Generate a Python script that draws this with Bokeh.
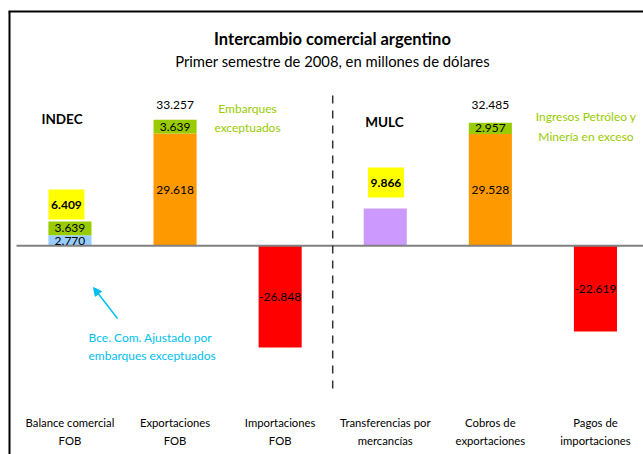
from bokeh.plotting import figure
from bokeh.models import Range1d, Arrow, NormalHead
from bokeh.core.properties import value
from bokeh.embed import file_html
from bokeh.resources import INLINE

# ---------------- data ----------------
categories = ["Balance comercial\nFOB", "Exportaciones\nFOB", "Importaciones\nFOB",
              "Transferencias por\nmercancías", "Cobros de\nexportaciones", "Pagos de\nimportaciones"]
base_values = [2770, 29618, -26848, 9866, 29528, -22619]
extra_values = [3639, 3639, 0, 0, 2957, 0]          # embarques / ingresos en exceso
base_labeled = [True, True, True, False, True, True]
boxed_totals = {0: 6409, 3: 9866}                    # totals shown in yellow boxes
plain_totals = {1: 33257, 4: 32485}                  # totals shown above bars
group_names = ["INDEC", "MULC"]
title = "Intercambio comercial argentino"
subtitle = "Primer semestre de 2008, en millones de dólares"
note_left = "Embarques\nexceptuados"
note_right = "Ingresos Petróleo y\nMinería en exceso"
note_adjusted = "Bce. Com. Ajustado por\nembarques exceptuados"

# ---------------- style ----------------
FONT = value("Lato")
W, H = 643, 454
PX_X = 105.1          # pixels per category
PX_Y = 0.00379        # pixels per million
ZERO_Y = 245.3
CENTER_X = 332.2      # pixel x of x=3
base_colors = ["#99CCFF", "#FF9900", "#FF0000", "#CC99FF", "#FF9900", "#FF0000"]
GREEN = "#99CC00"
CYAN = "#00C0F0"
BAR_W = 0.41

def px(sx):
    return 3 + (sx - CENTER_X) / PX_X

def py(sy):
    return (ZERO_Y - sy) / PX_Y

x0, x1 = px(0), px(W)
y1, y0 = py(0), py(H)

def fmt(v):
    return f"{v:,}".replace(",", ".")

p = figure(width=W, height=H, x_range=Range1d(x0, x1), y_range=Range1d(y0, y1),
           output_backend="svg", toolbar_location=None, x_axis_type=None, y_axis_type=None,
           min_border=0, min_border_left=0, min_border_right=0, min_border_top=0, min_border_bottom=0)
p.grid.visible = False
p.outline_line_color = None
p.background_fill_color = "white"
p.border_fill_color = "white"

xs = [i + 0.5 for i in range(len(categories))]

# bars
p.vbar(x=xs, bottom=0, top=base_values, width=BAR_W, fill_color=base_colors, line_color=None)
ext_x = [x for x, e in zip(xs, extra_values) if e]
ext_b = [b for b, e in zip(base_values, extra_values) if e]
ext_t = [b + e for b, e in zip(base_values, extra_values) if e]
p.vbar(x=ext_x, bottom=ext_b, top=ext_t, width=BAR_W, fill_color=GREEN, line_color=None)

# zero line
p.segment(x0=[px(16)], y0=[0], x1=[x1], y1=[0], line_color="#808080", line_width=2)

# divider
p.segment(x0=[3], y0=[py(95)], x1=[3], y1=[py(395)], line_color="#333333",
          line_width=1.5, line_dash="8 7")

# border (left and top)
p.segment(x0=[px(9)], y0=[py(11)], x1=[px(9)], y1=[y0], line_color="black", line_width=2)
p.segment(x0=[px(8)], y0=[py(11)], x1=[x1], y1=[py(11)], line_color="black", line_width=2)

# labels inside bars
lx = [x for x, l in zip(xs, base_labeled) if l]
ly = [b / 2 for b, l in zip(base_values, base_labeled) if l]
lt = [fmt(b) for b, l in zip(base_values, base_labeled) if l]
p.text(x=lx, y=ly, text=lt, text_font=FONT, text_font_size="12px", text_align="center",
       text_baseline="middle", text_color="black")
p.text(x=ext_x, y=[(b + t) / 2 for b, t in zip(ext_b, ext_t)], text=[fmt(e) for e in extra_values if e],
       text_font=FONT, text_font_size="12px", text_align="center", text_baseline="middle",
       text_color="black")

# plain totals above bars
p.text(x=[xs[i] for i in plain_totals], y=[py(104.5)] * len(plain_totals),
       text=[fmt(v) for v in plain_totals.values()], text_font=FONT, text_font_size="12px",
       text_align="center", text_baseline="middle", text_color="black")

# boxed totals
box_dx = {0: -3.5, 3: 0.7}
box_y = {0: 204, 3: 182}
bx = [xs[i] + box_dx[i] / PX_X for i in boxed_totals]
by = [py(box_y[i]) for i in boxed_totals]
p.rect(x=bx, y=by, width=36, height=30, width_units="screen", height_units="screen",
       fill_color="#FFFF00", line_color=None)
p.text(x=bx, y=by, text=[fmt(v) for v in boxed_totals.values()], text_font=FONT,
       text_font_size="12px", text_font_style="bold", text_align="center",
       text_baseline="middle", text_color="black")

# category labels
p.text(x=xs, y=[py(431)] * len(xs), text=categories, text_font=FONT, text_font_size="11.3px",
       text_align="center", text_baseline="middle", text_color="black", text_line_height=1.42)

# title and subtitle
p.text(x=[px(332)], y=[py(38)], text=[title], text_font=FONT, text_font_size="16.5px",
       text_font_style="bold", text_align="center", text_baseline="middle", text_color="black")
p.text(x=[px(332)], y=[py(60)], text=[subtitle], text_font=FONT, text_font_size="14.8px",
       text_align="center", text_baseline="middle", text_color="black")

# group names
p.text(x=[px(61.5), px(384)], y=[py(118), py(121)], text=group_names, text_font=FONT,
       text_font_size="13.5px", text_font_style="bold", text_align="center",
       text_baseline="middle", text_color="black")

# green notes
p.text(x=[px(247)], y=[py(117.5)], text=[note_left], text_font=FONT, text_font_size="12px",
       text_align="center", text_baseline="middle", text_color=GREEN, text_line_height=1.25)
p.text(x=[px(585.5)], y=[py(126)], text=[note_right], text_font=FONT, text_font_size="12px",
       text_align="center", text_baseline="middle", text_color=GREEN, text_line_height=1.28)

# cyan note and arrow
p.text(x=[px(88)], y=[py(346)], text=[note_adjusted], text_font=FONT, text_font_size="12px",
       text_align="left", text_baseline="middle", text_color=CYAN, text_line_height=1.2)
p.add_layout(Arrow(end=NormalHead(size=8, fill_color=CYAN, line_color=CYAN),
                   x_start=px(117), y_start=py(318), x_end=px(93), y_end=py(287),
                   line_color=CYAN, line_width=1.5))

open("out.html", "w").write(file_html(p, INLINE))
